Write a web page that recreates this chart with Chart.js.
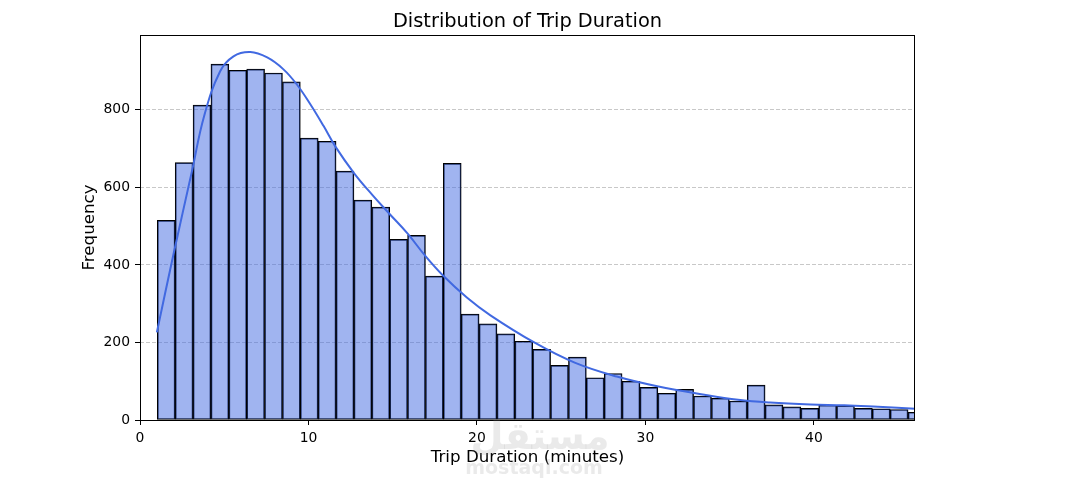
<!DOCTYPE html>
<html>
<head>
<meta charset="utf-8">
<title>Distribution of Trip Duration</title>
<script src="https://cdn.jsdelivr.net/npm/chart.js@4.4.1/dist/chart.umd.min.js"></script>
<style>
    html, body { margin: 0; padding: 0; background: #ffffff; }
    canvas { display: block; }
</style>
</head>
<body>

<canvas id="tripChart" width="1069" height="487"></canvas>

<script>

// =====================================
// Data
// =====================================

// histogram bins (minutes)
const BIN_START = 1.028;
const BIN_WIDTH = 1.061;

const counts = [
    515, 664, 812, 918, 902, 905, 895, 872, 727, 719,
    642, 567, 549, 466, 476, 371, 662, 273, 248, 222,
    203, 182, 141, 162, 109, 120, 100, 84, 69, 79,
    62, 56, 49, 90, 39, 34, 30, 38, 37, 30,
    29, 27, 20
];

// kde curve (scaled to counts)
const kdeX = [
    1.0, 2.0, 3.1, 3.8, 4.75, 5.55, 6.55, 7.55, 8.5, 9.3,
    10.1, 10.9, 11.6, 12.7, 13.8, 14.8, 15.9, 16.9, 18.0, 19.4,
    20.8, 23.4, 25.8, 28.3, 30.7, 33.5, 35.5, 37.4, 39.8, 41.8,
    43.8, 46.1
];

const kdeY = [
    226, 430, 645, 783, 899, 938, 949, 935, 905, 866,
    815, 758, 705, 637, 580, 532, 480, 425, 372, 316,
    270, 200, 148, 112, 87, 65, 52, 45, 40, 38,
    34, 29
];

const xTicks = [0, 10, 20, 30, 40];
const yTicks = [0, 200, 400, 600, 800];

const X_MAX = 46;
const Y_MAX = 993;

const TITLE = "Distribution of Trip Duration";
const X_LABEL = "Trip Duration (minutes)";
const Y_LABEL = "Frequency";

const FONT = "'DejaVu Sans', sans-serif";


// =====================================
// Build datasets
// =====================================

const barPoints = counts.map((c, i) => ({
    x: BIN_START + BIN_WIDTH * (i + 0.5),
    y: c
}));

const kdePoints = kdeX.map((x, i) => ({ x: x, y: kdeY[i] }));


// =====================================
// Text + frame plugin
// =====================================

const decorations = {

    id: "decorations",

    afterDatasetsDraw(chart){

        const ctx = chart.ctx;
        const a = chart.chartArea;

        ctx.save();

        // axes frame
        ctx.strokeStyle = "#000000";
        ctx.lineWidth = 1;
        ctx.strokeRect(Math.round(a.left) + 0.5, Math.round(a.top) + 0.5,
            Math.round(a.right - a.left) - 1, Math.round(a.bottom - a.top));

        ctx.restore();

    },

    afterDraw(chart){

        const ctx = chart.ctx;
        const a = chart.chartArea;
        const cx = (a.left + a.right) / 2;

        ctx.save();

        ctx.fillStyle = "#000000";
        ctx.textAlign = "center";
        ctx.textBaseline = "alphabetic";

        // title
        ctx.font = "19.4px " + FONT;
        ctx.fillText(TITLE, cx, a.top - 8);

        // x label
        ctx.font = "16.7px " + FONT;
        ctx.fillText(X_LABEL, cx, 462);

        // y label
        ctx.translate(94, (a.top + a.bottom) / 2);
        ctx.rotate(-Math.PI / 2);
        ctx.fillText(Y_LABEL, 0, 0);

        ctx.restore();

        // faint watermark
        ctx.save();
        ctx.textAlign = "center";
        ctx.fillStyle = "rgba(140,140,140,0.18)";
        ctx.font = "bold 38px " + FONT;
        ctx.fillText("مستقل", 540, 449);
        ctx.font = "bold 19px " + FONT;
        ctx.fillText("mostaql.com", 534, 474);
        ctx.restore();

    }

};


// =====================================
// Chart
// =====================================

new Chart(document.getElementById("tripChart"), {

    data: {

        datasets: [

            {
                type: "line",
                data: kdePoints,
                borderColor: "#4169e1",
                borderWidth: 2,
                pointRadius: 0,
                tension: 0.4,
                fill: false,
                clip: 0,
                order: 0
            },

            {
                type: "bar",
                data: barPoints,
                backgroundColor: "rgba(65,105,225,0.5)",
                borderColor: "#000000",
                borderWidth: 1,
                borderSkipped: false,
                barPercentage: 1,
                categoryPercentage: 1,
                grouped: false,
                clip: 0,
                order: 1
            }

        ]

    },

    options: {

        responsive: false,
        animation: false,
        devicePixelRatio: 1,

        layout: {
            padding: { left: 0, top: 35, right: 154, bottom: 0 }
        },

        plugins: {
            legend: { display: false },
            tooltip: { enabled: false },
            title: { display: false }
        },

        scales: {

            x: {
                type: "linear",
                min: 0,
                max: X_MAX,
                offset: false,
                afterBuildTicks: s => { s.ticks = xTicks.map(v => ({ value: v })); },
                afterFit: s => { s.height = 67; },
                ticks: {
                    color: "#000000",
                    padding: 5,
                    maxRotation: 0,
                    font: { family: FONT, size: 13.9 }
                },
                grid: {
                    offset: false,
                    drawOnChartArea: false,
                    drawTicks: true,
                    tickLength: 5,
                    tickColor: "#000000",
                    tickWidth: 1
                },
                border: { display: false }
            },

            y: {
                type: "linear",
                min: 0,
                max: Y_MAX,
                afterBuildTicks: s => { s.ticks = yTicks.map(v => ({ value: v })); },
                afterFit: s => { s.width = 140; },
                ticks: {
                    color: "#000000",
                    padding: 5,
                    font: { family: FONT, size: 13.9 }
                },
                grid: {
                    color: "rgba(176,176,176,0.7)",
                    lineWidth: 1,
                    drawTicks: true,
                    tickLength: 5,
                    tickColor: "#000000",
                    tickWidth: 1,
                    tickBorderDash: []
                },
                border: { display: false, dash: [4, 2] }
            }

        }

    },

    plugins: [decorations]

});

</script>

</body>
</html>
